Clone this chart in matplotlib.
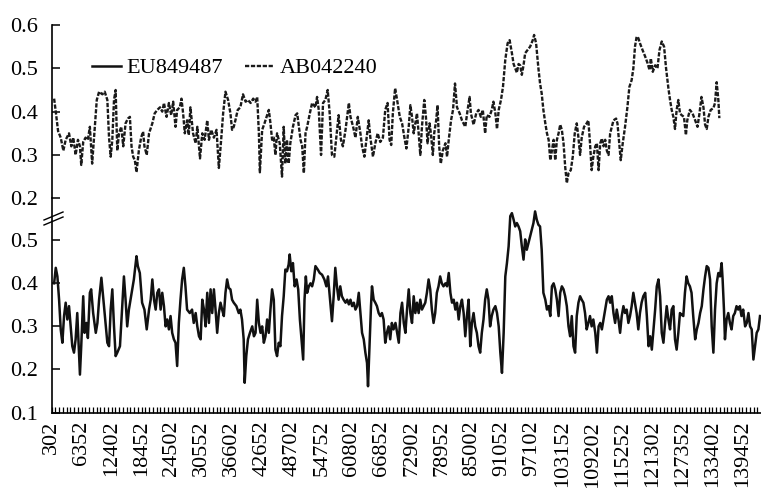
import matplotlib
matplotlib.use("Agg")
import matplotlib.pyplot as plt
from matplotlib.lines import Line2D
from matplotlib.ticker import FixedLocator, NullFormatter
import numpy as np

plt.rcParams['font.family'] = ['Liberation Serif', 'DejaVu Serif']

# ---------------- data ----------------
tick_labels = [302, 6352, 12402, 18452, 24502, 30552, 36602, 42652, 48702, 54752,
               60802, 66852, 72902, 78952, 85002, 91052, 97102, 103152, 109202,
               115252, 121302, 127352, 133402, 139452]

# AB042240 (upper panel)
ab_pos = [830, 1160, 1630, 2160, 2690, 3160, 3830, 4290, 4690, 5160, 5630, 6030, 6290, 6690, 7160, 7630,
          8030, 8490, 8830, 9420, 9890, 10550, 11020, 11550, 11890, 12220, 12550, 12890, 13220, 13550,
          13890, 14350, 14750, 15220, 15690, 16090, 16420, 16750, 17090, 17420, 17890, 18350, 18750,
          19020, 19480, 19950, 20610, 21080, 21610, 22150, 22610, 22950, 23480, 23950, 24410, 24810,
          25280, 25610, 26150, 26480, 26810, 27150, 27610, 27950, 28280, 28810, 29340, 29670, 30210,
          30670, 31140, 31670, 32010, 32470, 33010, 33540, 34010, 34470, 34870, 35340, 35870, 36340,
          36670, 37010, 37340, 37810, 38340, 38870, 39400, 39870, 40400, 40930, 41400, 41730, 42070,
          42270, 42730, 43200, 43730, 44070, 44400, 44730, 45070, 45400, 45730, 46270, 46730, 47070,
          47400, 47730, 48070, 48400, 48930, 49460, 49790, 50130, 50460, 50790, 51130, 51460, 51790,
          52330, 52790, 53460, 53790, 54130, 54590, 54990, 55460, 55930, 56330, 56790, 57260, 57660,
          58130, 58590, 58990, 59520, 60190, 60520, 61050, 61520, 61990, 62520, 62850, 63320, 63720,
          64190, 64520, 65050, 65520, 65990, 66520, 67050, 67520, 67990, 68390, 68720, 69050, 69510,
          69910, 70450, 70910, 71380, 71780, 72250, 72580, 72910, 73250, 73580, 73910, 74250, 74580,
          74910, 75380, 75710, 76050, 76450, 76710, 77110, 77380, 77780, 78050, 78380, 78710, 79110,
          79640, 79970, 80310, 80770, 81170, 81570, 81970, 82510, 82970, 83640, 84110, 84510, 84770,
          85310, 85840, 86310, 86770, 87170, 87640, 87970, 88510, 88970, 89310, 89700, 90030, 90370,
          90830, 91230, 91700, 92170, 92570, 93030, 93370, 93700, 94030, 94370, 94700, 95030, 95370,
          95700, 96170, 96700, 97230, 97500, 97900, 98370, 98700, 99030, 99370, 99760, 100090,
          100430, 100760, 101090, 101430, 101760, 102090, 102430, 102760, 103090, 103430, 103760,
          104090, 104430, 104890, 105290, 105690, 106090, 106430, 106760, 107090, 107560, 108090,
          108430, 108760, 109090, 109430, 109820, 110150, 110490, 110820, 111150, 111490, 111820,
          112150, 112490, 112820, 113150, 113490, 114020, 114290, 114690, 114950, 115350, 115820,
          116290, 116690, 117150, 117490, 117820, 118150, 118490, 118820, 119350, 119880, 120350,
          120750, 121010, 121410, 121880, 122350, 122750, 123210, 123680, 124080, 124550, 124880,
          125210, 125550, 125880, 126210, 126550, 126880, 127210, 127680, 128080, 128350, 128880,
          129410, 129940, 130410, 130810, 131210, 131610, 131940, 132270, 132610, 133070, 133610,
          133940, 134270, 134610, 134810]
ab_val = [0.43, 0.40, 0.355, 0.34, 0.31, 0.335, 0.35, 0.32, 0.34, 0.30, 0.335, 0.32, 0.277, 0.33, 0.34, 0.335,
          0.365, 0.28, 0.335, 0.427, 0.446, 0.44, 0.446, 0.427, 0.34, 0.296, 0.335, 0.427, 0.45, 0.31,
          0.35, 0.365, 0.32, 0.373, 0.384, 0.388, 0.32, 0.296, 0.288, 0.26, 0.31, 0.34, 0.354,
          0.32, 0.30, 0.35, 0.373, 0.396, 0.404, 0.41, 0.40, 0.42, 0.388, 0.42, 0.392, 0.423,
          0.365, 0.404, 0.41, 0.43, 0.396, 0.35, 0.38, 0.346, 0.41, 0.35, 0.327, 0.365, 0.292,
          0.35, 0.335, 0.38, 0.335, 0.358, 0.34, 0.358, 0.27, 0.335, 0.396, 0.446, 0.427, 0.396,
          0.358, 0.365, 0.38, 0.404, 0.41, 0.44, 0.423, 0.427, 0.42, 0.43, 0.423, 0.434, 0.35,
          0.26, 0.358, 0.373, 0.392, 0.404, 0.373, 0.335, 0.34, 0.30, 0.35, 0.327, 0.25, 0.365,
          0.28, 0.335, 0.28, 0.327, 0.365, 0.392, 0.396, 0.365, 0.335, 0.32, 0.258, 0.35, 0.365,
          0.396, 0.42, 0.41, 0.434, 0.404, 0.30, 0.42, 0.427, 0.45, 0.396, 0.30, 0.296, 0.34,
          0.392, 0.335, 0.32, 0.358, 0.42, 0.388, 0.365, 0.34, 0.388, 0.35, 0.32, 0.296, 0.335,
          0.38, 0.34, 0.296, 0.327, 0.35, 0.33, 0.34, 0.404, 0.42, 0.335, 0.323, 0.396, 0.454,
          0.427, 0.388, 0.373, 0.34, 0.315, 0.365, 0.415, 0.388, 0.35, 0.373, 0.396, 0.35, 0.30,
          0.365, 0.427, 0.388, 0.327, 0.373, 0.35, 0.30, 0.35, 0.38, 0.415, 0.32, 0.28, 0.31,
          0.327, 0.296, 0.335, 0.38, 0.404, 0.465, 0.41, 0.396, 0.38, 0.365, 0.404, 0.434, 0.396,
          0.37, 0.396, 0.404, 0.388, 0.404, 0.35, 0.392, 0.388, 0.404, 0.423, 0.396, 0.36, 0.404,
          0.427, 0.457, 0.52, 0.558, 0.565, 0.535, 0.51, 0.50, 0.49, 0.51, 0.507, 0.485, 0.507,
          0.535, 0.542, 0.55, 0.565, 0.577, 0.558, 0.50, 0.465, 0.442, 0.404, 0.373, 0.35,
          0.335, 0.288, 0.31, 0.335, 0.288, 0.335, 0.35, 0.37, 0.358, 0.327, 0.273,
          0.235, 0.258, 0.265, 0.296, 0.35, 0.373, 0.34, 0.30, 0.34, 0.365, 0.373,
          0.38, 0.327, 0.265, 0.296, 0.32, 0.327, 0.265, 0.327, 0.338, 0.32, 0.335,
          0.31, 0.30, 0.35, 0.365, 0.38, 0.384, 0.373, 0.32, 0.288, 0.327, 0.365,
          0.41, 0.457, 0.473, 0.50, 0.55, 0.573, 0.57, 0.558, 0.542, 0.527, 0.512,
          0.496, 0.523, 0.492, 0.507, 0.50, 0.542, 0.562, 0.55, 0.50, 0.454, 0.427,
          0.404, 0.388, 0.36, 0.404, 0.427, 0.396, 0.392, 0.388, 0.346, 0.38, 0.404,
          0.396, 0.38, 0.365, 0.396, 0.434, 0.41, 0.37, 0.36, 0.388, 0.404, 0.408,
          0.42, 0.468, 0.427, 0.385]

# EU849487 (lower panel)
eu_pos = [830, 1160, 1490, 1830, 2160, 2490, 2830, 3160, 3490, 3830, 4160, 4490, 4830, 5160, 5490, 5830,
          6030, 6290, 6690, 6960, 7360, 7630, 8030, 8290, 8690, 9220, 9550, 9890, 10350, 10750, 11220,
          11550, 11890, 12220, 12550, 12890, 13220, 13550, 14090, 14550, 14890, 15220, 15550, 15890,
          16220, 16550, 16890, 17420, 17690, 18090, 18550, 19020, 19480, 19950, 20280, 20610, 20950,
          21280, 21610, 21950, 22280, 22610, 22950, 23280, 23610, 23950, 24280, 24610, 24950, 25280,
          25610, 25950, 26280, 26610, 26950, 27280, 27610, 28150, 28610, 28950, 29340, 29670, 30010,
          30340, 30670, 31010, 31340, 31670, 32010, 32340, 32670, 33010, 33340, 33670, 34010, 34340,
          34670, 35010, 35340, 35670, 36010, 36340, 36670, 37010, 37540, 38010, 38340, 38670, 39010,
          39210, 39530, 39870, 40270, 40730, 41070, 41400, 41730, 42070, 42400, 42730, 43070, 43400,
          43730, 44070, 44400, 44730, 45070, 45400, 45730, 46070, 46400, 46730, 47070, 47400, 47730,
          48070, 48270, 48600, 48930, 49270, 49660, 49990, 50330, 50660, 50990, 51260, 51530, 51790,
          52130, 52460, 52790, 53130, 53460, 53930, 54330, 54790, 55260, 55660, 55990, 56460, 56790,
          57130, 57460, 57790, 58130, 58460, 58790, 59130, 59520, 59850, 60190, 60520, 60850, 61190,
          61520, 61850, 62190, 62520, 62850, 63190, 63520, 63850, 64050, 64390, 64650, 64850, 65190,
          65520, 65850, 66190, 66520, 66850, 67190, 67520, 67850, 68190, 68520, 68850, 69190, 69580,
          69910, 70250, 70580, 70910, 71250, 71580, 71910, 72250, 72580, 72910, 73250, 73580, 73910,
          74250, 74580, 74910, 75250, 75580, 75910, 76250, 76580, 76910, 77250, 77580, 77910, 78250,
          78580, 78910, 79250, 79640, 79970, 80310, 80640, 80970, 81310, 81640, 81970, 82310, 82640,
          82970, 83310, 83640, 83970, 84310, 84640, 84970, 85310, 85640, 85970, 86310, 86640, 86970,
          87310, 87640, 87970, 88310, 88640, 88970, 89310, 89700, 90030, 90370, 90700, 91030, 91370,
          91700, 92030, 92370, 92700, 93030, 93370, 93700, 94030, 94370, 94700, 95030, 95370, 95700,
          96030, 96370, 96700, 97030, 97370, 97700, 98030, 98370, 98700, 99030, 99370, 99760, 100090,
          100430, 100760, 101090, 101430, 101760, 102090, 102430, 102760, 103090, 103430, 103760,
          104090, 104430, 104760, 105090, 105430, 105760, 106090, 106430, 106760, 107090, 107430,
          107760, 108090, 108430, 108760, 109090, 109430, 109820, 110150, 110490, 110820, 111150,
          111490, 111820, 112150, 112490, 112820, 113150, 113490, 113820, 114150, 114490, 114820,
          115150, 115490, 115820, 116150, 116490, 116820, 117150, 117490, 117820, 118150, 118490,
          118820, 119150, 119490, 119880, 120210, 120550, 120880, 121210, 121550, 121880, 122210,
          122550, 122880, 123210, 123550, 123880, 124210, 124550, 124880, 125210, 125550, 125880,
          126210, 126550, 126880, 127210, 127550, 127880, 128210, 128550, 128880, 129210, 129550,
          129940, 130270, 130610, 130940, 131270, 131610, 131940, 132270, 132610, 132940, 133270,
          133610, 133940, 134270, 134610, 134940, 135270, 135470, 135740, 135940, 136270, 136610,
          136940, 137270, 137610, 137940, 138270, 138610, 138940, 139270, 139610, 140000, 140330,
          140670, 141000, 141330, 141670, 142000, 142330, 142670, 143000]
eu_val = [0.40, 0.436, 0.416, 0.362, 0.293, 0.262, 0.324, 0.355, 0.316, 0.347, 0.30, 0.254, 0.239, 0.27, 0.331, 0.239,
          0.188, 0.254, 0.37, 0.285, 0.308, 0.273, 0.378, 0.386, 0.331, 0.285, 0.308, 0.362, 0.413, 0.362, 0.30,
          0.262, 0.254, 0.339, 0.386, 0.30, 0.231, 0.239, 0.254, 0.347, 0.416, 0.362, 0.30, 0.339,
          0.362, 0.386, 0.409, 0.463, 0.44, 0.424, 0.355, 0.339, 0.293, 0.339, 0.362, 0.409, 0.362,
          0.339, 0.378, 0.386, 0.339, 0.378, 0.347, 0.30, 0.316, 0.293, 0.324, 0.285, 0.27, 0.262,
          0.208, 0.308, 0.362, 0.409, 0.436, 0.393, 0.339, 0.331, 0.339, 0.308, 0.331, 0.30, 0.277,
          0.27, 0.362, 0.339, 0.30, 0.378, 0.308, 0.386, 0.331, 0.386, 0.339, 0.285, 0.331, 0.355,
          0.339, 0.324, 0.378, 0.409, 0.389, 0.386, 0.362, 0.355, 0.347, 0.331, 0.339, 0.316, 0.27,
          0.169, 0.231, 0.27, 0.285, 0.30, 0.277, 0.285, 0.362, 0.308, 0.285, 0.30, 0.262, 0.277,
          0.316, 0.285, 0.339, 0.386, 0.362, 0.246, 0.231, 0.262, 0.254, 0.324, 0.37, 0.432, 0.428,
          0.444, 0.467, 0.428, 0.447, 0.393, 0.409, 0.386, 0.316, 0.27, 0.223, 0.362, 0.416, 0.378,
          0.393, 0.40, 0.393, 0.409, 0.44, 0.432, 0.424, 0.42, 0.409, 0.393, 0.416, 0.355, 0.312,
          0.37, 0.436, 0.393, 0.362, 0.393, 0.37, 0.362, 0.355, 0.362, 0.351, 0.362, 0.347, 0.355,
          0.339, 0.347, 0.378, 0.331, 0.285, 0.27, 0.239, 0.215, 0.161, 0.27, 0.347, 0.393, 0.362,
          0.355, 0.347, 0.331, 0.324, 0.331, 0.316, 0.262, 0.285, 0.30, 0.27, 0.308, 0.293, 0.308,
          0.285, 0.262, 0.331, 0.355, 0.308, 0.285, 0.339, 0.386, 0.331, 0.308, 0.37, 0.331, 0.355,
          0.331, 0.362, 0.339, 0.347, 0.355, 0.378, 0.409, 0.386, 0.339, 0.308, 0.331, 0.378, 0.393,
          0.416, 0.40, 0.393, 0.40, 0.393, 0.424, 0.378, 0.355, 0.362, 0.339, 0.355, 0.316, 0.347,
          0.362, 0.331, 0.277, 0.324, 0.362, 0.254, 0.308, 0.331, 0.30, 0.285, 0.254, 0.239, 0.285,
          0.316, 0.362, 0.386, 0.362, 0.30, 0.324, 0.339, 0.347, 0.331, 0.30, 0.239, 0.192, 0.285,
          0.416, 0.447, 0.486, 0.556, 0.563, 0.548, 0.532, 0.54, 0.532, 0.521, 0.486, 0.455, 0.502,
          0.478, 0.494, 0.51, 0.525, 0.54, 0.567, 0.548, 0.536, 0.532, 0.478, 0.378, 0.362, 0.339,
          0.347, 0.324, 0.393, 0.40, 0.386, 0.362, 0.324, 0.378, 0.393, 0.386, 0.37,
          0.347, 0.30, 0.277, 0.324, 0.254, 0.239, 0.324, 0.355, 0.37, 0.362,
          0.355, 0.331, 0.293, 0.308, 0.324, 0.30, 0.316, 0.285, 0.239, 0.30, 0.308, 0.293,
          0.316, 0.339, 0.362, 0.37, 0.355, 0.37, 0.331, 0.308, 0.339, 0.316, 0.285,
          0.324, 0.347, 0.331, 0.339, 0.308, 0.324, 0.347, 0.378, 0.355, 0.331, 0.293,
          0.331, 0.355, 0.37, 0.378, 0.324, 0.254, 0.277, 0.246, 0.293, 0.339, 0.393,
          0.409, 0.37, 0.285, 0.262, 0.308, 0.347, 0.316, 0.293, 0.339, 0.347, 0.27,
          0.246, 0.285, 0.331, 0.327, 0.324, 0.378, 0.416, 0.40, 0.393, 0.378, 0.324,
          0.27, 0.293, 0.308, 0.331, 0.347, 0.386, 0.416, 0.44, 0.436, 0.409, 0.30,
          0.239, 0.339, 0.40, 0.424, 0.416, 0.447, 0.409, 0.339, 0.27, 0.316, 0.331,
          0.308, 0.293, 0.324, 0.331, 0.347, 0.339, 0.347, 0.324, 0.339, 0.30, 0.308,
          0.331, 0.30, 0.293, 0.223, 0.254, 0.285, 0.293, 0.324]

upper_yticks = [0.2, 0.3, 0.4, 0.5, 0.6]
lower_yticks = [0.1, 0.2, 0.3, 0.4, 0.5]
series_names = ['EU849487', 'AB042240']

# ---------------- figure ----------------
W, H = 761, 488
fig = plt.figure(figsize=(W / 100, H / 100), dpi=100)

left = 51.5 / W
width = 1 - left
y_axis = 412.5
y_mid = 198.3
y_top = 25.0

ax_lo = fig.add_axes([left, 1 - y_axis / H, width, (y_axis - y_mid) / H])
ax_up = fig.add_axes([left, 1 - y_mid / H, width, (y_mid - y_top) / H])

FS = 16
l_eu, = ax_lo.plot(eu_pos, eu_val, color='#111111', lw=1.8)
l_ab, = ax_up.plot(ab_pos, ab_val, color='#1a1a1a', lw=1.7, linestyle=(0, (1.8, 0.7)))

xmin, xmax = 302, 143200
for ax in (ax_lo, ax_up):
    ax.set_xlim(xmin, xmax)
    ax.patch.set_alpha(0)
    for s in ('top', 'right'):
        ax.spines[s].set_visible(False)
    ax.spines['left'].set_linewidth(1.2)
    ax.tick_params(axis='y', direction='in', length=5.5, width=1.1, labelsize=FS, pad=10)

ax_up.spines['bottom'].set_visible(False)
ax_up.set_ylim(0.2, 0.6)
ax_up.set_yticks(upper_yticks)
ax_up.set_yticklabels([f'{v:.1f}' for v in upper_yticks])
ax_up.set_xticks([])

ax_lo.set_ylim(0.1, 0.1 + (y_axis - y_mid) / 430.6)
ax_lo.set_yticks(lower_yticks)
ax_lo.set_yticklabels([f'{v:.1f}' for v in lower_yticks])
ax_lo.spines['bottom'].set_linewidth(1.2)

step = (tick_labels[1] - tick_labels[0]) / 8
minor = [tick_labels[0] + step * k for k in range(int((xmax - tick_labels[0]) / step) + 1) if k % 8]
ax_lo.xaxis.set_major_locator(FixedLocator(tick_labels))
ax_lo.set_xticklabels([str(v) for v in tick_labels], rotation=90)
ax_lo.xaxis.set_minor_locator(FixedLocator(minor))
ax_lo.xaxis.set_minor_formatter(NullFormatter())
ax_lo.tick_params(axis='x', which='both', direction='in', length=4.2, width=0.9)
ax_lo.tick_params(axis='x', which='major', labelsize=FS, pad=6)

# axis break marks
def fx(x):
    return x / W
def fy(y):
    return 1 - y / H
for dy in (0, 5):
    fig.add_artist(Line2D([fx(44), fx(63)], [fy(220 + dy), fy(212 + dy)],
                          color='black', lw=1.0, transform=fig.transFigure))

leg = fig.legend([l_eu, l_ab], series_names, loc='center left',
                 bbox_to_anchor=(92 / W, 1 - 68 / H), bbox_transform=fig.transFigure,
                 ncol=2, frameon=False, fontsize=FS, handlelength=1.3,
                 handletextpad=0.25, columnspacing=1.0, borderpad=0, borderaxespad=0)

fig.savefig('out.png', dpi=100)
